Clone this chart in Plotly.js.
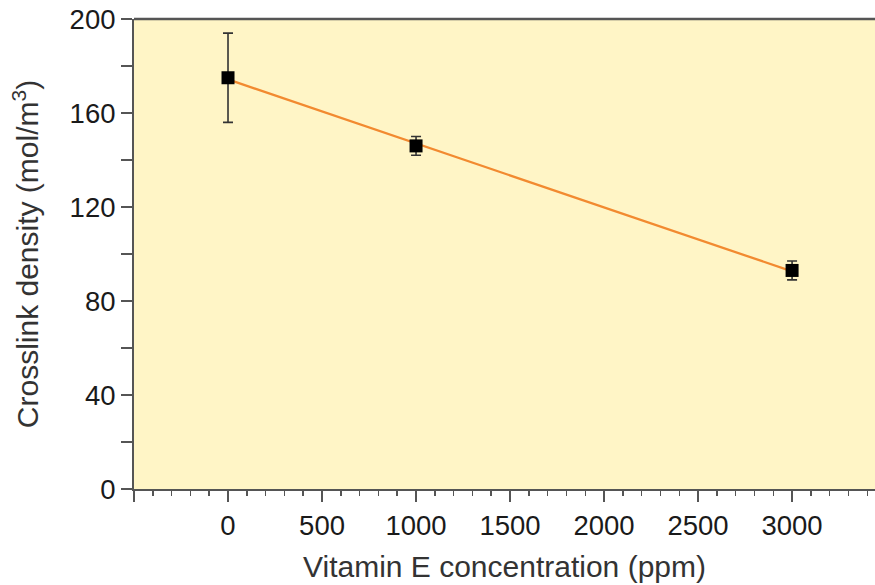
<!DOCTYPE html>
<html>
<head>
<meta charset="utf-8">
<script src="https://cdn.plot.ly/plotly-3.0.1.min.js"></script>
<style>html,body{margin:0;padding:0;background:#fff}#chart{width:875px;height:585px}</style>
</head>
<body>
<div id="chart"></div>
<script>
// Data
const vitaminE = [0, 1000, 3000];              // ppm
const crosslink = [175, 146, 93];              // mol/m^3
const crosslinkErr = [19, 4, 4];
const fitX = [0, 3000];
const fitY = [174.3, 92.6];
const xTickVals = [-500, 0, 500, 1000, 1500, 2000, 2500, 3000];
const xTickText = ['', '0', '500', '1000', '1500', '2000', '2500', '3000'];
const yTickVals = [0, 20, 40, 60, 80, 100, 120, 140, 160, 180, 200];
const yTickText = ['0', '', '40', '', '80', '', '120', '', '160', '', '200'];

const font = 'Liberation Sans, Arial, sans-serif';

const traces = [
  {
    x: fitX, y: fitY, mode: 'lines', type: 'scatter',
    line: {color: '#F28A30', width: 2.3}, hoverinfo: 'skip', showlegend: false
  },
  {
    x: vitaminE, y: crosslink, mode: 'markers', type: 'scatter',
    marker: {symbol: 'square', size: 13, color: '#000'},
    error_y: {type: 'data', array: crosslinkErr, visible: true, color: '#333', thickness: 1.6, width: 5},
    showlegend: false
  }
];

const layout = {
  width: 875, height: 585,
  margin: {l: 134, r: 0, t: 19, b: 96},
  paper_bgcolor: '#ffffff',
  plot_bgcolor: '#FFF5C6',
  font: {family: font, color: '#222', size: 27},
  xaxis: {
    range: [-500, 3441],
    tickmode: 'array', tickvals: xTickVals, ticktext: xTickText,
    ticks: 'outside', ticklen: 11, tickwidth: 2, tickcolor: '#555',
    minor: {dtick: 100, tick0: 0, ticks: 'outside', ticklen: 5, tickwidth: 1.5, tickcolor: '#555', showgrid: false},
    showline: true, linecolor: '#555', linewidth: 2,
    showgrid: false, zeroline: false,
    tickfont: {size: 27.5, family: font, color: '#1a1a1a'},
    title: {text: 'Vitamin E concentration (ppm)', font: {size: 30, family: font, color: '#333'}, standoff: 16}
  },
  yaxis: {
    range: [0, 200],
    tickmode: 'array', tickvals: yTickVals, ticktext: yTickText,
    ticks: 'outside', ticklen: 11, tickwidth: 2, tickcolor: '#555',
    showline: true, linecolor: '#555', linewidth: 2,
    showgrid: false, zeroline: false,
    tickfont: {size: 27.5, family: font, color: '#1a1a1a'},
    title: {text: 'Crosslink density (mol/m<sup>3</sup>)', font: {size: 30, family: font, color: '#333'}, standoff: 22}
  },
  shapes: [
    {type: 'line', xref: 'paper', yref: 'paper', x0: 0, x1: 1, y0: 1, y1: 1, line: {color: '#555', width: 2.5}}
  ]
};

Plotly.newPlot('chart', traces, layout, {displayModeBar: false, staticPlot: true});
</script>
</body>
</html>
